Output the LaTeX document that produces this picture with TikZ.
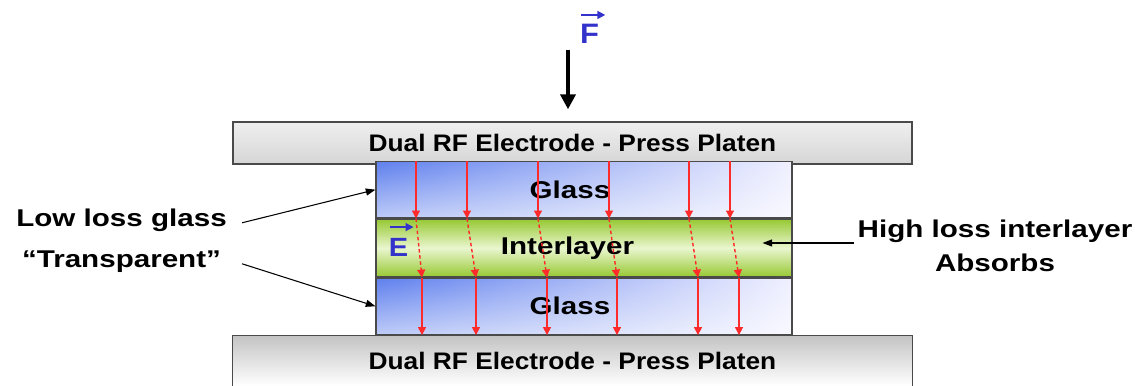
\documentclass[tikz,border=0pt]{standalone}
\usepackage{fontspec}
\setmainfont[FakeStretch=1.22]{Liberation Sans}
\newfontfamily\platenfont[FakeStretch=1.1]{Liberation Sans}
\usepackage{xcolor}
\usetikzlibrary{arrows.meta,positioning,fadings}

\definecolor{platenlight}{HTML}{EFEFEF}
\definecolor{platendark}{HTML}{C4C4C4}
\definecolor{glassblue}{HTML}{5F80EE}
\definecolor{glasspale}{HTML}{F0F0FF}
\definecolor{interdark}{HTML}{96C832}
\definecolor{interlight}{HTML}{EAF6CF}
\definecolor{fieldred}{HTML}{FF2A2A}
\definecolor{vecblue}{HTML}{3333CC}
\definecolor{edgegray}{HTML}{4A4A4A}

\tikzset{
  layer/.style={minimum width=8.32cm, inner sep=0pt, draw=edgegray, line width=0.6pt,
    font=\fontsize{13.8}{16}\selectfont\bfseries},
  glass/.style={layer, minimum height=1.13cm, left color=glassblue, right color=glasspale,
    path picture={\fill[white, opacity=0.6, path fading=north] (path picture bounding box.south west) rectangle (path picture bounding box.north east);}},
  interlayer/.style={layer, minimum height=1.16cm, top color=interdark, bottom color=interdark, middle color=interlight},
  platen/.style={minimum width=13.58cm, inner sep=0pt, font=\platenfont\fontsize{13.6}{16}\selectfont\bfseries},
  sidelabel/.style={inner sep=0pt, align=center},
  field/.style={fieldred, line width=0.8pt, -{Triangle[length=4.5pt,width=4.5pt]}},
  fieldpass/.style={field, dash pattern=on 2pt off 1.5pt},
  force/.style={black, line width=2.3pt, -{Triangle[length=8.5pt,width=8.5pt]}},
  pointer/.style={black, line width=0.6pt, -{Triangle[length=5.5pt,width=4pt]}},
  vecarrow/.style={vecblue, line width=0.9pt, -{Triangle[length=4.5pt,width=4.5pt]}},
  vecname/.style={inner sep=0pt, text=vecblue, font=\platenfont\fontsize{16}{18}\selectfont\bfseries}
}

\begin{document}
\begin{tikzpicture}
\useasboundingbox (0,0) rectangle (22.8,7.72);

\node (tplaten) [platen, top color=platenlight, bottom color=platendark!70, draw=edgegray, line width=0.8pt, minimum height=0.84cm] at (11.45,4.86) {Dual RF Electrode - Press Platen};
\node (bplaten) [platen, top color=platendark, bottom color=white, minimum height=1.0cm] at (11.45,0.5) {Dual RF Electrode - Press Platen};
\draw[edgegray, line width=0.8pt] (bplaten.south west) |- (bplaten.north east) -- (bplaten.south east);

\node (inter) [interlayer] at (11.68,2.76) {Interlayer\hspace*{0.66cm}};
\node (gtop) [glass, above=0pt of inter] {Glass\hspace*{0.56cm}};
\node (gbot) [glass, below=0pt of inter] {Glass\hspace*{0.56cm}};

\foreach \i/\a/\b in {1/8.32/8.44, 2/9.34/9.52, 3/10.76/10.94, 4/12.18/12.34, 5/13.78/13.96, 6/14.60/14.78} {
  \coordinate (in\i) at (\a,0);
  \coordinate (out\i) at (\b,0);
  \draw[field] (gtop.north -| in\i) -- (inter.north -| in\i);
  \draw[fieldpass] (inter.north -| in\i) -- (inter.south -| out\i);
  \draw[field] (gbot.north -| out\i) -- (gbot.south -| out\i);
}

\node (F) [vecname] at (11.79,7.04) {F};
\draw[vecarrow] ([shift={(0.02,0.18)}]F.north west) -- ([shift={(0.12,0.18)}]F.north east);
\coordinate (ftail) at (11.36,6.72);
\draw[force, shorten >=0.24cm] (ftail) -- (ftail |- tplaten.north);

\node (E) [vecname, font=\platenfont\fontsize{15}{17}\selectfont\bfseries] at (7.97,2.77) {E};
\draw[vecarrow] ([shift={(0.04,0.22)}]E.north west) -- ([shift={(0.1,0.22)}]E.north east);

\node (lowloss) [sidelabel, font=\fontsize{13.8}{23.3}\selectfont\bfseries] at (2.43,2.90) {Low loss glass\\“Transparent”};
\draw[pointer] ([shift={(0.3,0.364)}]lowloss.east) -- (gtop.west);
\draw[pointer] ([shift={(0.3,-0.456)}]lowloss.east) -- (gbot.west);

\node (highloss) [sidelabel, font=\fontsize{13.8}{19.3}\selectfont\bfseries] at (19.9,2.80) {High loss interlayer\\Absorbs};
\coordinate (hl) at ([shift={(-0.06,0.06)}]highloss.west);
\draw[pointer, shorten >=-0.6cm] (hl) -- (hl -| inter.east);
\end{tikzpicture}
\end{document}
